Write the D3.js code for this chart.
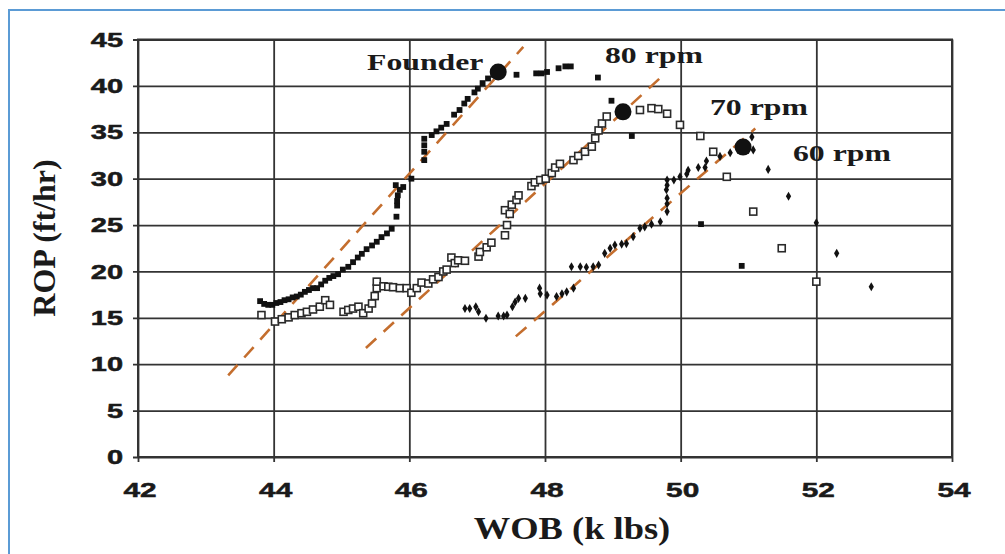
<!DOCTYPE html>
<html>
<head>
<meta charset="utf-8">
<script src="https://cdn.jsdelivr.net/npm/d3@7"></script>
<style>
  html, body { margin: 0; padding: 0; background: #fff; }
  svg { display: block; }
</style>
</head>
<body>
<svg id="chart" width="1005" height="554"></svg>
<script>
// ROP vs WOB drill-off data, one array per rotary speed: [WOB (k lbs), ROP (ft/hr)]
const rpm80 = [
  [43.80,16.8],[43.86,16.5],[43.92,16.4],[43.98,16.4],[44.04,16.6],[44.10,16.7],[44.16,16.9],
  [44.22,17.0],[44.28,17.2],[44.34,17.3],[44.40,17.5],[44.46,17.8],[44.52,18.0],[44.58,18.2],
  [44.64,18.2],[44.70,18.6],[44.76,19.0],[44.82,19.3],[44.88,19.5],[44.95,19.7],[45.02,20.2],
  [45.10,20.5],[45.17,21.0],[45.24,21.5],[45.30,21.9],[45.37,22.4],[45.45,22.8],[45.52,23.2],
  [45.59,23.7],[45.67,24.1],[45.74,24.6],[45.81,25.9],[45.82,27.1],[45.82,27.6],[45.83,28.2],
  [45.86,28.8],[45.80,29.3],[45.91,29.1],[46.03,30.0],
  [46.22,32.0],[46.22,32.9],[46.22,33.6],[46.22,34.3],[46.33,34.7],[46.40,35.1],[46.47,35.5],
  [46.55,35.9],[46.66,36.9],[46.74,37.4],[46.81,38.1],[46.86,38.6],[46.96,39.3],[47.01,39.7],
  [47.08,40.3],[47.16,40.8],[47.24,41.2],
  [47.58,41.2],[47.87,41.35],[47.95,41.35],[48.03,41.5],[48.20,41.9],[48.30,42.1],[48.38,42.1],
  [48.78,40.9],
  [48.98,38.4],[49.28,34.6],[50.30,25.1],[50.90,20.6]
];

const rpm70 = [
  [43.82,15.3],[44.02,14.6],[44.12,14.85],[44.22,15.05],[44.31,15.3],[44.41,15.5],[44.49,15.65],
  [44.58,15.9],[44.68,16.2],[44.76,16.9],[44.83,16.4],[45.03,15.65],[45.10,15.85],[45.17,16.0],
  [45.25,16.2],[45.32,15.5],[45.40,16.0],[45.45,16.55],[45.49,17.35],[45.52,18.2],[45.52,18.9],
  [45.62,18.4],[45.69,18.35],[45.76,18.3],[45.86,18.2],[45.96,18.2],[46.03,17.7],[46.11,18.2],
  [46.18,18.8],[46.28,18.7],[46.35,19.15],[46.43,19.4],[46.50,20.0],[46.55,20.2],[46.62,21.5],
  [46.67,20.9],[46.72,21.2],[46.82,21.15],[47.02,21.6],[47.04,22.1],[47.14,22.6],[47.21,23.1],
  [47.41,23.9],[47.44,25.0],[47.41,26.6],[47.48,26.2],[47.51,27.2],[47.58,27.7],[47.61,28.2],
  [47.80,29.2],[47.85,29.6],[47.93,29.85],[48.01,30.0],[48.10,30.6],[48.15,31.2],[48.22,31.6],
  [48.42,32.0],[48.49,32.45],[48.59,32.9],[48.69,33.45],[48.74,34.35],[48.79,35.2],[48.84,35.95],
  [48.91,36.7],[49.40,37.4],[49.57,37.6],[49.67,37.5],[49.80,37.0],[49.99,35.8],[50.29,34.6],
  [50.48,32.9],[50.68,30.2],[51.07,26.45],[51.49,22.5],[52.00,18.9]
];

const rpm60 = [
  [46.82,16.0],[46.89,16.0],[46.98,16.2],[47.02,15.65],[47.13,14.95],[47.31,15.2],[47.39,15.2],
  [47.44,15.3],[47.52,16.2],[47.56,16.7],[47.61,17.1],[47.71,17.1],[47.92,18.2],[47.93,17.6],
  [48.03,17.45],[48.17,17.3],[48.25,17.6],[48.32,17.8],[48.42,18.2],[48.39,20.5],[48.52,20.5],
  [48.61,20.45],[48.71,20.5],[48.79,20.7],[48.88,21.95],[48.96,22.5],[49.03,22.85],[49.13,22.95],
  [49.20,23.0],[49.30,23.75],[49.40,24.65],[49.47,24.8],[49.57,25.1],[49.70,25.35],[49.80,26.45],
  [49.80,27.3],[49.80,27.9],[49.79,28.8],[49.80,29.3],[49.80,29.85],[49.90,29.85],[49.99,30.2],
  [50.09,30.5],[50.11,30.9],[50.26,31.2],[50.36,31.2],[50.38,31.9],[50.58,32.4],[50.73,32.8],
  [51.05,34.5],[51.07,33.1],[51.29,31.0],[51.59,28.1],[52.00,25.25],[52.30,21.95],[52.81,18.35]
];

// Straight-line trends through the linear drilling region (end points)
const trend80 = [[43.33, 8.8], [47.68, 44.2]];
const trend70 = [[45.36, 11.75], [49.72, 41.0]];
const trend60 = [[47.57, 13.0], [51.10, 35.4]];

// Founder points (onset of poor bit efficiency) for each speed
const founderPts = [[47.31, 41.5], [49.15, 37.2], [50.92, 33.4]];

const xTicks = [42, 44, 46, 48, 50, 52, 54];
const yTicks = [0, 5, 10, 15, 20, 25, 30, 35, 40, 45];

const svg = d3.select("#chart");
const plotL = 138, plotR = 952, plotT = 39.5, plotB = 457;

const x = d3.scaleLinear().domain([42, 54]).range([plotL, plotR]);
const y = d3.scaleLinear().domain([0, 45]).range([plotB, plotT]);

// outer blue frame (left and top edges)
svg.append("path")
  .attr("d", "M9,554 V10 H1005")
  .attr("fill", "none")
  .attr("stroke", "#5b9bd5")
  .attr("stroke-width", 2);

const gridColor = "#333";

// horizontal grid + left tick marks
const yAxis = d3.axisRight(y).tickValues(yTicks).tickSize(plotR - (plotL - 5)).tickFormat("");
svg.append("g")
  .attr("transform", `translate(${plotL - 5},0)`)
  .call(yAxis)
  .call(g => g.select(".domain").remove())
  .call(g => g.selectAll(".tick line").attr("stroke", gridColor).attr("stroke-width", 1.8));

// vertical grid + bottom tick marks
const xAxis = d3.axisBottom(x).tickValues(xTicks).tickSize(plotB + 5 - plotT).tickFormat("");
svg.append("g")
  .attr("transform", `translate(0,${plotT})`)
  .call(xAxis)
  .call(g => g.select(".domain").remove())
  .call(g => g.selectAll(".tick line").attr("stroke", gridColor).attr("stroke-width", 1.8));

// plot frame
svg.append("rect")
  .attr("x", plotL).attr("y", plotT)
  .attr("width", plotR - plotL).attr("height", plotB - plotT)
  .attr("fill", "none").attr("stroke", gridColor).attr("stroke-width", 2);

// tick labels (wide bold sans)
const tickFont = "'Liberation Sans', Arial, sans-serif";
svg.append("g").selectAll("text").data(yTicks).join("text")
  .attr("transform", d => `translate(${plotL - 15},${y(d)}) scale(1.45,1)`)
  .attr("text-anchor", "end")
  .attr("dy", "0.36em")
  .attr("font-family", tickFont).attr("font-weight", "bold").attr("font-size", 20)
  .attr("fill", "#1a1a1a").attr("stroke", "#1a1a1a").attr("stroke-width", 0.5)
  .text(d => d);

svg.append("g").selectAll("text").data(xTicks).join("text")
  .attr("transform", d => `translate(${x(d) + 2},${plotB + 40}) scale(1.42,1)`)
  .attr("text-anchor", "middle")
  .attr("font-family", tickFont).attr("font-weight", "bold").attr("font-size", 21)
  .attr("fill", "#1a1a1a").attr("stroke", "#1a1a1a").attr("stroke-width", 0.5)
  .text(d => d);

// axis titles (bold serif)
const serif = "'Liberation Serif', 'Times New Roman', serif";
svg.append("text")
  .attr("transform", `translate(${(x(42) + x(54)) / 2 + 27},539) scale(1.14,1)`)
  .attr("text-anchor", "middle")
  .attr("font-family", serif).attr("font-weight", "bold").attr("font-size", 32)
  .attr("fill", "#1a1a1a")
  .text("WOB (k lbs)");

svg.append("text")
  .attr("transform", `translate(55,238) rotate(-90)`)
  .attr("text-anchor", "middle")
  .attr("font-family", serif).attr("font-weight", "bold").attr("font-size", 32)
  .attr("fill", "#1a1a1a")
  .text("ROP (ft/hr)");

// dashed trend lines
const line = d3.line().x(d => x(d[0])).y(d => y(d[1]));
svg.append("g").selectAll("path").data([trend80, trend70, trend60]).join("path")
  .attr("d", line)
  .attr("fill", "none")
  .attr("stroke", "#c46e2e")
  .attr("stroke-width", 2.6)
  .attr("stroke-dasharray", "14,10");

// 70 rpm: open squares
const s70 = 7;
svg.append("g").selectAll("rect").data(rpm70).join("rect")
  .attr("x", d => x(d[0]) - s70 / 2).attr("y", d => y(d[1]) - s70 / 2)
  .attr("width", s70).attr("height", s70)
  .attr("fill", "#fff").attr("stroke", "#2a2a2a").attr("stroke-width", 1.6);

// 80 rpm: filled squares
const s80 = 5.8;
svg.append("g").selectAll("rect").data(rpm80).join("rect")
  .attr("x", d => x(d[0]) - s80 / 2).attr("y", d => y(d[1]) - s80 / 2)
  .attr("width", s80).attr("height", s80)
  .attr("fill", "#111");

// 60 rpm: small filled diamonds
const diamond = d3.symbol().type(d3.symbolDiamond).size(24);
svg.append("g").selectAll("path").data(rpm60).join("path")
  .attr("transform", d => `translate(${x(d[0])},${y(d[1])})`)
  .attr("d", diamond)
  .attr("fill", "#111");

// founder points
svg.append("g").selectAll("circle").data(founderPts).join("circle")
  .attr("cx", d => x(d[0])).attr("cy", d => y(d[1]))
  .attr("r", 8.5)
  .attr("fill", "#111");

// annotations
const notes = [
  { text: "Founder", px: 367, py: 70 },
  { text: "80 rpm", px: 605, py: 63 },
  { text: "70 rpm", px: 710, py: 115 },
  { text: "60 rpm", px: 793, py: 161 }
];
svg.append("g").selectAll("text").data(notes).join("text")
  .attr("transform", d => `translate(${d.px},${d.py}) scale(1.38,1)`)
  .attr("font-family", serif).attr("font-weight", "bold").attr("font-size", 23)
  .attr("fill", "#1a1a1a")
  .text(d => d.text);
</script>
</body>
</html>
